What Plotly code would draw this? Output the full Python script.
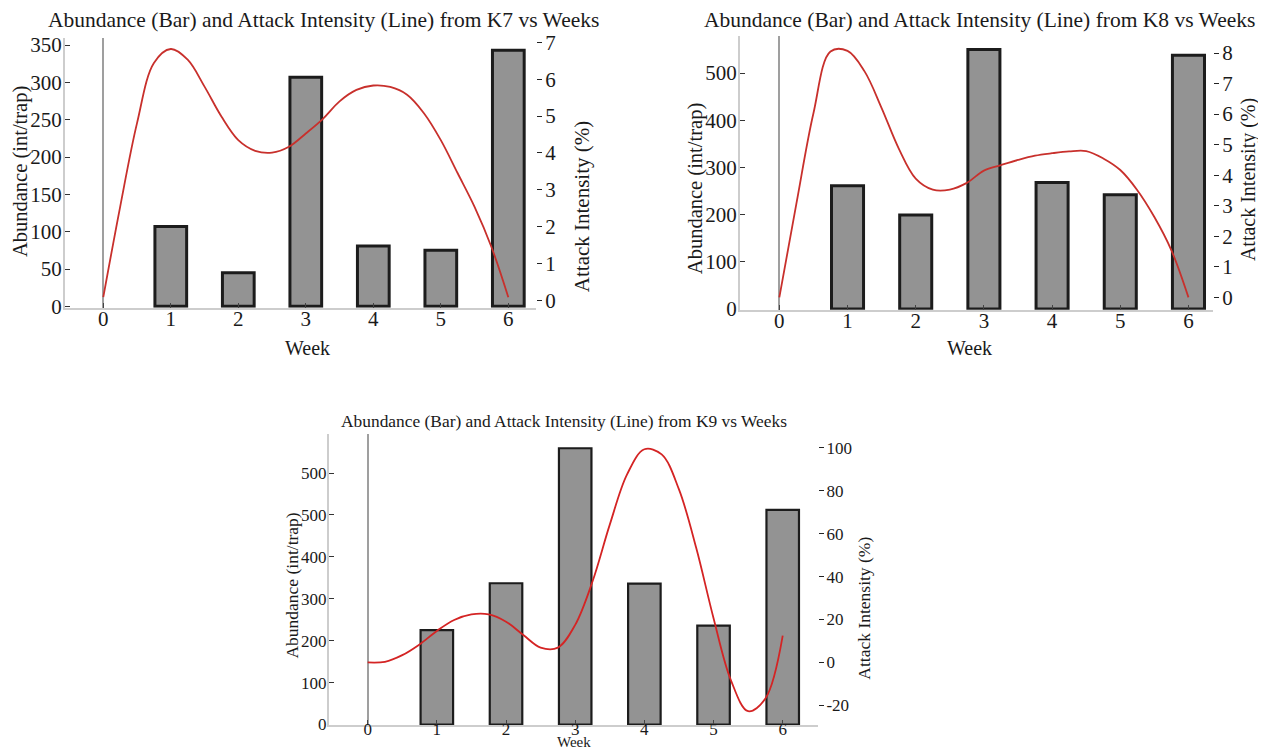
import plotly.graph_objects as go

# ---------------- data ----------------
bar_weeks = [1, 2, 3, 4, 5, 6]
week_ticks = [0, 1, 2, 3, 4, 5, 6]
week_labels = ["0", "1", "2", "3", "4", "5", "6"]

k7_abundance = [107, 45, 307, 81, 75, 343]
k8_abundance = [261, 199, 550, 268, 242, 538]
k9_abundance = [225, 337, 659, 336, 236, 512]

# attack intensity every quarter week
curve_weeks = [0, 0.25, 0.5, 0.75, 1, 1.25, 1.5, 1.75, 2, 2.25, 2.5, 2.75, 3,
               3.25, 3.5, 3.75, 4, 4.25, 4.5, 4.75, 5, 5.25, 5.5, 5.75, 6]
k7_attack = [0.09, 2.54, 4.81, 6.44, 6.82, 6.53, 5.80, 4.99, 4.35, 4.06, 4.01, 4.17, 4.53,
             4.92, 5.40, 5.71, 5.83, 5.79, 5.58, 5.08, 4.35, 3.45, 2.54, 1.45, 0.09]
k8_attack = [0.0, 3.07, 6.03, 8.05, 8.07, 7.40, 6.20, 4.88, 3.89, 3.53, 3.53, 3.75, 4.15,
             4.33, 4.50, 4.64, 4.72, 4.78, 4.79, 4.55, 4.17, 3.51, 2.63, 1.54, 0.0]
k9_attack = [0.0, 0.3, 3.4, 8.4, 14.7, 19.8, 22.4, 22.4, 19.0, 12.8, 6.9, 6.9, 17.5,
             37.7, 64.2, 87.6, 99.3, 96.9, 80.6, 53.3, 20.6, -8.2, -22.7, -16.8, 12.5]

k7_left_ticks = [0, 50, 100, 150, 200, 250, 300, 350]
k7_right_ticks = [0, 1, 2, 3, 4, 5, 6, 7]
k8_left_ticks = [0, 100, 200, 300, 400, 500]
k8_right_ticks = [0, 1, 2, 3, 4, 5, 6, 7, 8]
k9_left_ticks = [0, 100, 200, 300, 400, 500, 600]
k9_left_labels = ["0", "100", "200", "300", "400", "500", "500"]
k9_right_ticks = [-20, 0, 20, 40, 60, 80, 100]

titles = ["Abundance (Bar) and Attack Intensity (Line) from K7 vs Weeks",
          "Abundance (Bar) and Attack Intensity (Line) from K8 vs Weeks",
          "Abundance (Bar) and Attack Intensity (Line) from K9 vs Weeks"]
x_title = "Week"
left_title = "Abundance (int/trap)"
right_title = "Attack Intensity (%)"

# ---------------- layout helpers ----------------
W, H = 1266, 751
FONT = "Liberation Serif"
TXT = "#1a1a1a"

# the page is shown with a small offset / vertical squeeze; target positions
# below are given in picture pixels and mapped back to figure coordinates
OX, OY, SY = 8.0, 15.5, 0.9725


def fx(p):
    return (p - OX) / W


def fy(p):
    return 1 - ((p - OY) / SY) / H


BAR_FILL = "#939393"
BAR_LINE = "#1c1c1c"
SPINE = "#cdcdcd"

fig = go.Figure()

panels = [
    dict(ab=k7_abundance, at=k7_attack, xa="x", yl="y", yr="y2", bw=3.0, lc="#c8302c", lw=1.8),
    dict(ab=k8_abundance, at=k8_attack, xa="x2", yl="y3", yr="y4", bw=3.0, lc="#c8302c", lw=1.8),
    dict(ab=k9_abundance, at=k9_attack, xa="x3", yl="y5", yr="y6", bw=2.2, lc="#d42424", lw=1.8),
]

for p in panels:
    fig.add_trace(go.Bar(x=bar_weeks, y=p["ab"], xaxis=p["xa"], yaxis=p["yl"], width=0.47,
                         marker=dict(color=BAR_FILL, line=dict(color=BAR_LINE, width=p["bw"])),
                         showlegend=False, hoverinfo="skip"))
for p in panels:
    fig.add_trace(go.Scatter(x=curve_weeks, y=p["at"], xaxis=p["xa"], yaxis=p["yr"], mode="lines",
                             line=dict(color=p["lc"], width=p["lw"], shape="spline", smoothing=1.0),
                             showlegend=False, hoverinfo="skip"))


def xaxis(domain, rng, anchor, fs, standoff):
    return dict(domain=domain, range=rng, anchor=anchor, tickvals=week_ticks, ticktext=week_labels,
                ticks="inside", ticklen=5, tickwidth=1.2, tickcolor="#444", ticklabelstandoff=standoff,
                showline=True, linecolor=SPINE, linewidth=2, showgrid=False,
                zeroline=True, zerolinecolor="#9f9f9f", zerolinewidth=2,
                tickfont=dict(family=FONT, size=fs, color=TXT), fixedrange=True)


def yleft(domain, rng, anchor, tv, tt, fs):
    return dict(domain=domain, range=rng, anchor=anchor, tickvals=tv, ticktext=tt,
                ticks="inside", ticklen=5, tickwidth=1.2, tickcolor="#333", ticklabelstandoff=-3,
                showline=True, linecolor=SPINE, linewidth=2, showgrid=False, zeroline=False,
                tickfont=dict(family=FONT, size=fs, color=TXT), fixedrange=True)


def yright(overlay, rng, anchor, tv, tt, fs):
    return dict(overlaying=overlay, side="right", range=rng, anchor=anchor, tickvals=tv, ticktext=tt,
                ticks="outside", ticklen=5, tickwidth=1.3, tickcolor="#222", ticklabelstandoff=-1,
                showline=False, showgrid=False, zeroline=False,
                tickfont=dict(family=FONT, size=fs, color=TXT), fixedrange=True)


# pixel boxes of the three plot areas (picture pixels)
k7_box = (65, 536, 38, 307.3)
k8_box = (740, 1213, 36.7, 309.3)
k9_box = (329, 818, 433, 723.3)


def dom(box):
    x0, x1, y0, y1 = box
    return [fx(x0), fx(x1)], [fy(y1), fy(y0)]


d7x, d7y = dom(k7_box)
d8x, d8y = dom(k8_box)
d9x, d9y = dom(k9_box)

layout = dict(
    width=W, height=H, margin=dict(l=0, r=0, t=0, b=0),
    paper_bgcolor="white", plot_bgcolor="white", bargap=0.5,
    xaxis=xaxis(d7x, [-0.567, 6.41], "y", 21, -9),
    yaxis=yleft(d7y, [-2, 360], "x", k7_left_ticks, [str(v) for v in k7_left_ticks], 21),
    yaxis2=yright("y", [-0.2, 7.13], "x", k7_right_ticks, [str(v) for v in k7_right_ticks], 21),
    xaxis2=xaxis(d8x, [-0.577, 6.36], "y3", 21, -9),
    yaxis3=yleft(d8y, [-2, 578], "x2", k8_left_ticks, [str(v) for v in k8_left_ticks], 21),
    yaxis4=yright("y3", [-0.41, 8.55], "x2", k8_right_ticks, [str(v) for v in k8_right_ticks], 21),
    xaxis3=xaxis(d9x, [-0.559, 6.51], "y5", 17, -13),
    yaxis5=yleft(d9y, [-2, 693], "x3", k9_left_ticks, k9_left_labels, 17),
    yaxis6=yright("y5", [-29.3, 106.4], "x3", k9_right_ticks, [str(v) for v in k9_right_ticks], 17),
)
fig.update_layout(**layout)


def label(text, x, y, size, angle=0):
    fig.add_annotation(text=text, x=fx(x), y=fy(y), xref="paper", yref="paper", showarrow=False,
                       textangle=angle, xanchor="center", yanchor="middle",
                       font=dict(family=FONT, size=size, color=TXT))


# titles
label(titles[0], 323.5, 20, 21.5)
label(titles[1], 979, 20, 21.5)
label(titles[2], 564, 420, 17.4)
# x titles
label(x_title, 307, 347, 20)
label(x_title, 969, 347, 20)
label(x_title, 574, 739.5, 15)
# left titles
label(left_title, 20, 172, 20.5, -90)
label(left_title, 695, 189, 20.5, -90)
label(left_title, 292, 584, 17.5, -90)
# right titles
label(right_title, 582, 207, 21, -90)
label(right_title, 1248, 180, 20, -90)
label(right_title, 864, 606, 17.5, -90)

fig.write_html("out.html")
